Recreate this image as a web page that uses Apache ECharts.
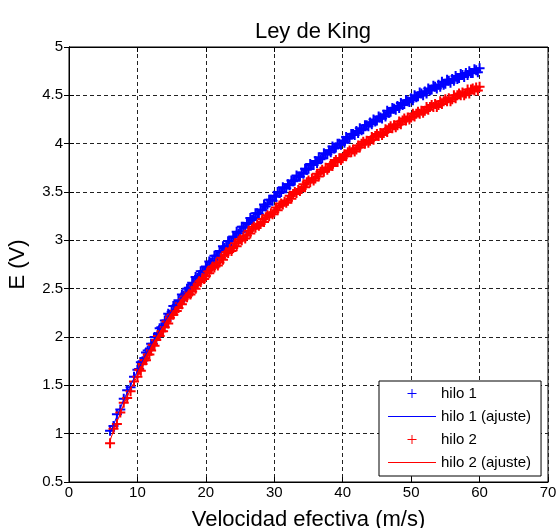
<!DOCTYPE html>
<html>
<head>
<meta charset="utf-8">
<script src="https://cdn.jsdelivr.net/npm/echarts@6/dist/echarts.min.js"></script>
<style>html,body{margin:0;padding:0;background:#fff;}#c{width:556px;height:528px;}</style>
</head>
<body>
<div id="c"></div>
<script>
// Measured velocity samples (m/s)
var U_meas = [6,6.5,7,7.5,8,8.5,9,9.5,
10,10.25,10.5,10.75,11,11.25,11.5,11.75,12,12.25,12.5,12.75,13,13.25,13.5,13.75,14,14.25,14.5,14.75,
15,15.25,15.5,15.75,16,16.25,16.5,16.75,17,17.25,17.5,17.75,18,18.25,18.5,18.75,19,19.25,19.5,19.75,
20,20.25,20.5,20.75,21,21.25,21.5,21.75,22,22.25,22.5,22.75,23,23.25,23.5,23.75,24,24.25,24.5,24.75,
25,25.25,25.5,25.75,26,26.25,26.5,26.75,27,27.25,27.5,27.75,28,28.25,28.5,28.75,29,29.25,29.5,29.75,
30,30.25,30.5,30.75,31,31.25,31.5,31.75,32,32.25,32.5,32.75,33,33.25,33.5,33.75,34,34.25,34.5,34.75,
35,35.25,35.5,35.75,36,36.25,36.5,36.75,37,37.25,37.5,37.75,38,38.25,38.5,38.75,39,39.25,39.5,39.75,
40,40.25,40.5,40.75,41,41.25,41.5,41.75,42,42.25,42.5,42.75,43,43.25,43.5,43.75,44,44.25,44.5,44.75,
45,45.25,45.5,45.75,46,46.25,46.5,46.75,47,47.25,47.5,47.75,48,48.25,48.5,48.75,49,49.25,49.5,49.75,
50,50.25,50.5,50.75,51,51.25,51.5,51.75,52,52.25,52.5,52.75,53,53.25,53.5,53.75,54,54.25,54.5,54.75,
55,55.25,55.5,55.75,56,56.25,56.5,56.75,57,57.25,57.5,57.75,58,58.25,58.5,58.75,59,59.25,59.5,59.75,
60];
// hilo 1 measured voltage (V)
var E1_meas = [1.03,1.08,1.20,1.25,1.36,1.45,1.48,1.59,
1.66,1.67,1.74,1.75,1.78,1.84,1.86,1.87,1.93,1.93,2.00,2.00,2.03,2.09,2.10,2.11,2.17,2.17,2.24,2.23,
2.26,2.32,2.32,2.33,2.38,2.37,2.44,2.43,2.45,2.50,2.51,2.51,2.56,2.55,2.62,2.61,2.63,2.68,2.68,2.68,
2.73,2.72,2.78,2.77,2.79,2.84,2.84,2.84,2.89,2.88,2.94,2.92,2.94,2.99,2.99,2.99,3.04,3.03,3.09,3.07,
3.09,3.14,3.14,3.13,3.18,3.17,3.23,3.21,3.23,3.28,3.28,3.27,3.32,3.31,3.37,3.35,3.37,3.42,3.42,3.41,
3.46,3.45,3.50,3.49,3.50,3.55,3.54,3.54,3.58,3.57,3.62,3.61,3.62,3.67,3.66,3.66,3.70,3.69,3.74,3.73,
3.74,3.79,3.78,3.78,3.82,3.80,3.86,3.84,3.85,3.90,3.89,3.89,3.93,3.91,3.97,3.95,3.96,4.00,4.00,3.99,
4.03,4.01,4.07,4.05,4.06,4.10,4.10,4.09,4.13,4.11,4.16,4.14,4.15,4.19,4.19,4.18,4.22,4.20,4.25,4.23,
4.24,4.28,4.27,4.26,4.30,4.28,4.34,4.32,4.33,4.37,4.36,4.35,4.39,4.37,4.42,4.40,4.41,4.45,4.44,4.43,
4.47,4.45,4.50,4.48,4.49,4.53,4.52,4.50,4.54,4.52,4.57,4.55,4.56,4.60,4.59,4.57,4.61,4.59,4.64,4.61,
4.62,4.66,4.65,4.63,4.67,4.65,4.70,4.67,4.68,4.72,4.71,4.69,4.73,4.71,4.75,4.73,4.73,4.77,4.76,4.74,
4.78];
// hilo 2 measured voltage (V)
var E2_meas = [0.90,1.05,1.10,1.22,1.32,1.37,1.44,1.54,
1.59,1.66,1.65,1.72,1.76,1.76,1.82,1.82,1.86,1.92,1.91,1.97,2.01,2.01,2.06,2.06,2.10,2.16,2.14,2.20,
2.23,2.23,2.27,2.27,2.30,2.35,2.34,2.39,2.42,2.41,2.45,2.44,2.47,2.52,2.50,2.55,2.58,2.57,2.61,2.60,
2.63,2.68,2.66,2.70,2.73,2.72,2.76,2.74,2.77,2.82,2.80,2.85,2.88,2.87,2.91,2.89,2.92,2.97,2.94,2.99,
3.01,3.00,3.04,3.02,3.05,3.10,3.07,3.12,3.14,3.13,3.16,3.15,3.17,3.22,3.19,3.24,3.26,3.25,3.28,3.27,
3.29,3.34,3.31,3.36,3.38,3.37,3.40,3.39,3.41,3.46,3.43,3.48,3.50,3.49,3.52,3.51,3.53,3.58,3.55,3.60,
3.62,3.60,3.64,3.62,3.64,3.69,3.66,3.71,3.73,3.71,3.75,3.73,3.75,3.79,3.77,3.81,3.83,3.81,3.85,3.83,
3.85,3.89,3.87,3.91,3.93,3.91,3.94,3.92,3.94,3.98,3.96,4.00,4.02,4.00,4.03,4.01,4.03,4.07,4.04,4.08,
4.10,4.08,4.11,4.09,4.11,4.15,4.12,4.16,4.18,4.16,4.19,4.17,4.19,4.23,4.20,4.24,4.26,4.24,4.27,4.25,
4.27,4.31,4.28,4.31,4.33,4.31,4.34,4.32,4.34,4.38,4.35,4.38,4.40,4.38,4.41,4.38,4.40,4.44,4.41,4.44,
4.46,4.44,4.47,4.44,4.46,4.50,4.47,4.50,4.52,4.50,4.53,4.50,4.52,4.56,4.52,4.56,4.57,4.55,4.58,4.55,
4.59];
// Fit curves (King's law), sampled at integer velocities
var U_fit = [6,7,8,9,10,11,12,13,14,15,16,17,18,19,20,21,22,23,24,25,26,27,28,29,30,31,32,33,34,35,36,37,38,39,40,41,42,43,44,45,46,47,48,49,50,51,52,53,54,55,56,57,58,59,60];
var E1_fit = [1.00,1.18,1.35,1.50,1.65,1.79,1.92,2.04,2.16,2.27,2.37,2.46,2.55,2.64,2.72,2.80,2.88,2.95,3.03,3.10,3.17,3.24,3.31,3.38,3.45,3.51,3.57,3.63,3.69,3.75,3.81,3.86,3.92,3.97,4.02,4.07,4.12,4.16,4.21,4.25,4.29,4.34,4.38,4.42,4.46,4.50,4.53,4.57,4.60,4.63,4.66,4.69,4.72,4.74,4.77];
var E2_fit = [0.93,1.12,1.30,1.46,1.60,1.74,1.87,1.99,2.11,2.21,2.31,2.40,2.48,2.56,2.64,2.71,2.78,2.86,2.93,2.99,3.06,3.12,3.18,3.24,3.30,3.36,3.42,3.48,3.54,3.60,3.65,3.71,3.76,3.81,3.86,3.91,3.95,4.00,4.04,4.08,4.12,4.16,4.20,4.24,4.28,4.31,4.35,4.38,4.41,4.44,4.47,4.50,4.53,4.55,4.58];
var seriesNames = ['hilo 1','hilo 1 (ajuste)','hilo 2','hilo 2 (ajuste)'];
var titleText = 'Ley de King';
var xName = 'Velocidad efectiva (m/s)';
var yName = 'E (V)';

function pairs(xs, ys){ return xs.map(function(x,i){ return [x, ys[i]]; }); }

var PLUS = 'path://M0,4H10V6H0Z M4,0H6V10H4Z';
var PLUS_THIN = 'path://M0,4.45H10V5.55H0Z M4.45,0H5.55V10H4.45Z';
var LINE_ICON = 'path://M0,0H48V1.1H0Z';
var FONT = "'Liberation Sans', Arial, sans-serif";

var chart = echarts.init(document.getElementById('c'), null, {renderer:'canvas'});
var gridLine = {show:true, lineStyle:{color:'#222', width:1, type:[4,3]}};
chart.setOption({
  animation:false,
  backgroundColor:'#fff',
  title:{text:titleText, left:308, textAlign:'center', top:16,
    textStyle:{fontFamily:FONT, fontSize:22, fontWeight:'normal', color:'#000'}},
  grid:{left:69, right:8, top:47, bottom:46, show:true, borderColor:'#000', borderWidth:1, backgroundColor:'#fff',
    containLabel:false, outerBoundsMode:'none'},
  legend:{orient:'vertical', left:379, top:381, backgroundColor:'#fff', borderColor:'#000', borderWidth:1,
    padding:[5,10,6,9], itemGap:8, itemWidth:48, itemHeight:9,
    textStyle:{fontFamily:FONT, fontSize:15, color:'#000'},
    data:[
      {name:seriesNames[0], icon:PLUS_THIN},
      {name:seriesNames[1], icon:LINE_ICON},
      {name:seriesNames[2], icon:PLUS_THIN},
      {name:seriesNames[3], icon:LINE_ICON}
    ]},
  xAxis:[{type:'value', min:0, max:70, interval:10, position:'bottom',
    name:xName, nameLocation:'middle', nameGap:27,
    nameTextStyle:{fontFamily:FONT, fontSize:22, color:'#000'},
    axisLine:{show:true, lineStyle:{color:'#000'}},
    axisTick:{show:true, inside:true, length:5, lineStyle:{color:'#000'}},
    axisLabel:{fontFamily:FONT, fontSize:15, color:'#000', margin:3},
    splitLine:gridLine},
    {type:'value', min:0, max:70, interval:10, position:'top',
    axisLine:{show:true, lineStyle:{color:'#000'}},
    axisTick:{show:true, inside:true, length:5, lineStyle:{color:'#000'}},
    axisLabel:{show:false}, splitLine:{show:false}}],
  yAxis:[{type:'value', min:0.5, max:5, interval:0.5, position:'left',
    name:yName, nameLocation:'middle', nameGap:40,
    nameTextStyle:{fontFamily:FONT, fontSize:22, color:'#000'},
    axisLine:{show:true, lineStyle:{color:'#000'}},
    axisTick:{show:true, inside:true, length:5, lineStyle:{color:'#000'}},
    axisLabel:{fontFamily:FONT, fontSize:15, color:'#000', margin:6},
    splitLine:gridLine},
    {type:'value', min:0.5, max:5, interval:0.5, position:'right',
    axisLine:{show:true, lineStyle:{color:'#000'}},
    axisTick:{show:true, inside:true, length:5, lineStyle:{color:'#000'}},
    axisLabel:{show:false}, splitLine:{show:false}}],
  series:[
    {name:seriesNames[0], type:'scatter', data:pairs(U_meas,E1_meas), symbol:PLUS, symbolSize:10,
      itemStyle:{color:'#0000ff', opacity:1}},
    {name:seriesNames[1], type:'line', data:pairs(U_fit,E1_fit), symbol:'none', showSymbol:false,
      lineStyle:{color:'#0000ff', width:1}, itemStyle:{color:'#0000ff'}},
    {name:seriesNames[2], type:'scatter', data:pairs(U_meas,E2_meas), symbol:PLUS, symbolSize:10,
      itemStyle:{color:'#ff0000', opacity:1}},
    {name:seriesNames[3], type:'line', data:pairs(U_fit,E2_fit), symbol:'none', showSymbol:false,
      lineStyle:{color:'#ff0000', width:1}, itemStyle:{color:'#ff0000'}}
  ]
});
</script>
</body>
</html>
